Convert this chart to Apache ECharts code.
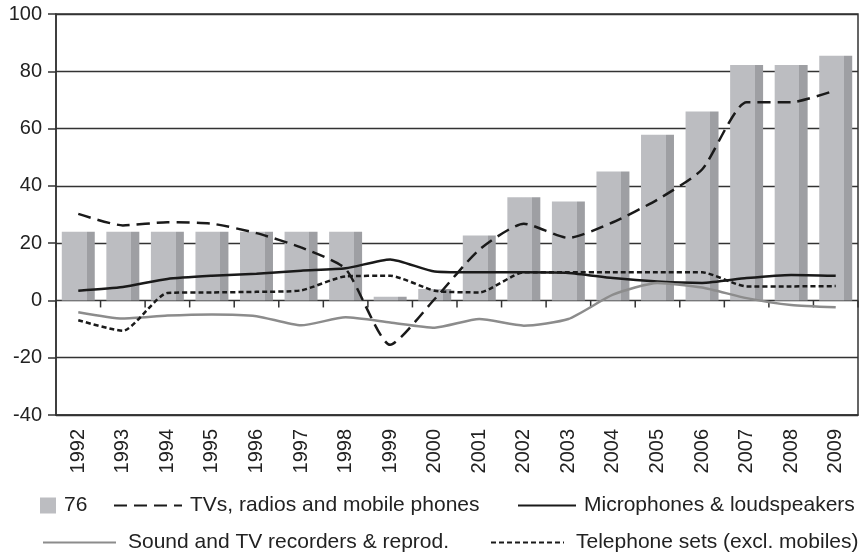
<!DOCTYPE html>
<html>
<head>
    <meta charset="utf-8">
    <title>Growth chart</title>
    <script src="https://cdn.jsdelivr.net/npm/echarts@6/dist/echarts.min.js"></script>
    <style>
        html, body { margin: 0; padding: 0; background: #fff; }
        #chart { width: 862px; height: 554px; }
    </style>
</head>
<body>
    <div id="chart"></div>
    <script>
        // 数据
        const years = ['1992', '1993', '1994', '1995', '1996', '1997', '1998', '1999', '2000',
            '2001', '2002', '2003', '2004', '2005', '2006', '2007', '2008', '2009'];
        const bars76 = [24, 24, 24, 24, 24, 24, 24, 1.3, 4, 22.7, 36, 34.5, 45, 57.8, 66, 82.2, 82.2, 85.4];
        const tvRadios = [30.2, 26.2, 27.3, 26.8, 23.5, 18.5, 11, -15.5, 0.5, 17.7, 26.8, 21.8, 27.3, 35.2, 45.7, 69.2, 69.2, 73.4];
        const microphones = [3.4, 4.7, 7.5, 8.6, 9.3, 10.4, 11.2, 14.3, 10.1, 9.8, 9.8, 9.6, 7.8, 6.6, 6.1, 7.8, 8.9, 8.6];
        const soundRecorders = [-4.1, -6.3, -5.3, -4.9, -5.5, -8.7, -5.9, -7.7, -9.5, -6.5, -8.8, -6.5, 2.0, 6.1, 4.5, 0.8, -1.6, -2.4];
        const telephones = [-6.9, -10.6, 2.6, 2.8, 3.0, 3.5, 8.4, 8.6, 3.4, 2.8, 9.8, 9.8, 9.8, 9.8, 9.8, 4.9, 4.9, 5.0];

        const font = 'Liberation Sans, Arial, sans-serif';
        const txt = { fontFamily: font, fontSize: 20, color: '#222' };
        const legTxt = { fontFamily: font, fontSize: 21, color: '#222' };

        const chart = echarts.init(document.getElementById('chart'));

        // 每个图例单独摆放
        function legendAt(name, left, top, w, gap, isBar) {
            return {
                data: [name], left: left, top: top, padding: 0,
                itemWidth: w, itemHeight: 16,
                icon: isBar ? 'rect' : undefined,
                itemStyle: isBar ? { color: '#bcbdc1' } : { opacity: 0 },
                textStyle: Object.assign({ padding: [0, 0, 0, gap] }, legTxt),
                selectedMode: false
            };
        }

        // 零线上分类边界的小刻度
        function zeroTicks(params, api) {
            const idx = api.value(0);
            const p = api.coord([idx, 0]);
            const w = api.size([1, 0])[0];
            const style = { stroke: '#333', lineWidth: 1.5 };
            const children = [{
                type: 'line', shape: { x1: p[0] - w / 2, y1: p[1], x2: p[0] - w / 2, y2: p[1] + 7 }, style: style
            }];
            if (idx === years.length - 1) {
                children.push({
                    type: 'line', shape: { x1: p[0] + w / 2, y1: p[1], x2: p[0] + w / 2, y2: p[1] + 7 }, style: style
                });
            }
            return { type: 'group', children: children };
        }

        chart.setOption({
            animation: false,
            grid: {
                left: 56, right: 4, top: 14, bottom: 139,
                show: true, borderColor: '#333', borderWidth: 1.5
            },
            legend: [
                legendAt('76', 40, 495, 16, 3, true),
                legendAt('TVs, radios and mobile phones', 113, 495, 68, 3),
                legendAt('Microphones & loudspeakers', 517, 495, 58, 3),
                legendAt('Sound and TV recorders & reprod.', 42, 532, 73, 7),
                legendAt('Telephone sets (excl. mobiles)', 490, 532, 73, 7)
            ],
            xAxis: {
                type: 'category', data: years, position: 'bottom',
                axisLine: { onZero: false, lineStyle: { color: '#333', width: 1.5 } },
                axisTick: { alignWithLabel: true, length: 7, lineStyle: { color: '#333', width: 1.5 } },
                axisLabel: Object.assign({ rotate: 90, margin: 14, interval: 0 }, txt)
            },
            yAxis: {
                type: 'value', min: -40, max: 100, interval: 20,
                axisLine: { show: true, lineStyle: { color: '#333', width: 1.5 } },
                axisTick: { show: true, length: 8, lineStyle: { color: '#333', width: 1.5 } },
                axisLabel: Object.assign({ margin: 14 }, txt),
                splitLine: { lineStyle: { color: '#333', width: 1.3 } }
            },
            series: [{
                name: '76', type: 'bar', data: bars76, barWidth: '74%',
                itemStyle: {
                    color: new echarts.graphic.LinearGradient(0, 0, 1, 0, [
                        { offset: 0, color: '#bcbdc1' },
                        { offset: 0.75, color: '#bcbdc1' },
                        { offset: 0.75, color: '#9e9fa3' },
                        { offset: 1, color: '#9e9fa3' }
                    ])
                }
            }, {
                type: 'custom', renderItem: zeroTicks, silent: true, z: 4,
                data: years.map((y, i) => [i, 0])
            }, {
                name: 'TVs, radios and mobile phones', type: 'line', data: tvRadios,
                symbol: 'none', smooth: 0.2, z: 5,
                itemStyle: { color: '#1a1a1a' },
                lineStyle: { color: '#1a1a1a', width: 2.5, type: [13, 7] }
            }, {
                name: 'Microphones & loudspeakers', type: 'line', data: microphones,
                symbol: 'none', smooth: 0.2, z: 5,
                itemStyle: { color: '#1a1a1a' },
                lineStyle: { color: '#1a1a1a', width: 2.5 }
            }, {
                name: 'Sound and TV recorders & reprod.', type: 'line', data: soundRecorders,
                symbol: 'none', smooth: 0.2, z: 5,
                itemStyle: { color: '#8c8c8c' },
                lineStyle: { color: '#8c8c8c', width: 2.5 }
            }, {
                name: 'Telephone sets (excl. mobiles)', type: 'line', data: telephones,
                symbol: 'none', smooth: 0.2, z: 5,
                itemStyle: { color: '#1a1a1a' },
                lineStyle: { color: '#1a1a1a', width: 2.5, type: [5, 3] }
            }]
        });
    </script>
</body>
</html>
